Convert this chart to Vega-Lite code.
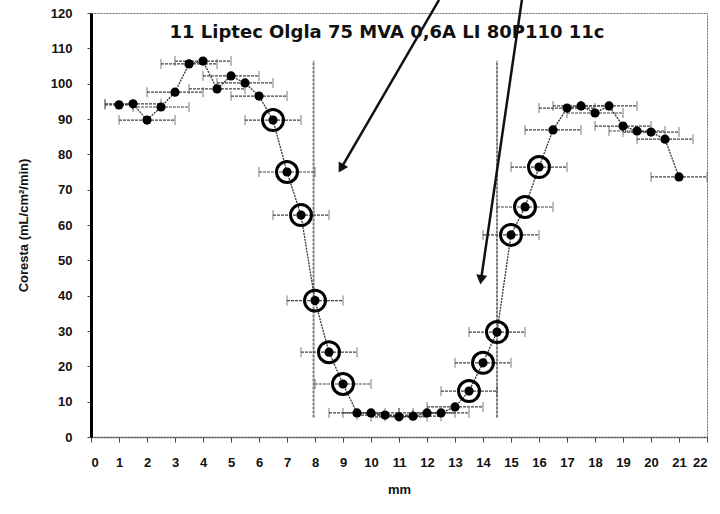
{
  "$schema": "https://vega.github.io/schema/vega-lite/v6.json",
  "autosize": {"type": "none"},
  "padding": {"left": 91, "top": 13, "right": 13, "bottom": 77},
  "width": 616,
  "height": 424,
  "background": "white",
  "config": {
    "font": "Liberation Sans",
    "view": {"stroke": "#666", "strokeDash": [2, 1], "strokeWidth": 1},
    "axis": {"grid": false, "labelFont": "Liberation Sans", "titleFont": "Liberation Sans", "labelColor": "#111", "titleColor": "#111", "tickColor": "#444", "labelOverlap": false, "titleFontSize": 13, "titleFontWeight": "bold", "titlePadding": 14, "labelFontSize": 13, "labelFontWeight": "bold"},
    "axisX": {"labelPadding": 14, "tickSize": 5, "domainColor": "#555", "domainDash": [2, 1], "domainWidth": 1.5},
    "axisY": {"labelPadding": 15, "titlePadding": 20, "tickSize": 4, "domainColor": "#000", "domainWidth": 3}
  },
  "datasets": {
    "pts": [
      {"x": 1, "y": 94, "err": 0.5},
      {"x": 1.5, "y": 94.3, "err": 1},
      {"x": 2, "y": 89.7, "err": 1},
      {"x": 2.5, "y": 93.4, "err": 1},
      {"x": 3, "y": 97.6, "err": 1},
      {"x": 3.5, "y": 105.6, "err": 1},
      {"x": 4, "y": 106.4, "err": 1},
      {"x": 4.5, "y": 98.5, "err": 1},
      {"x": 5, "y": 102.2, "err": 1},
      {"x": 5.5, "y": 100.2, "err": 1},
      {"x": 6, "y": 96.5, "err": 1},
      {"x": 6.5, "y": 89.7, "err": 1},
      {"x": 7, "y": 75, "err": 1},
      {"x": 7.5, "y": 62.8, "err": 1},
      {"x": 8, "y": 38.6, "err": 1},
      {"x": 8.5, "y": 24, "err": 1},
      {"x": 9, "y": 15, "err": 1},
      {"x": 9.5, "y": 6.8, "err": 1},
      {"x": 10, "y": 6.8, "err": 1},
      {"x": 10.5, "y": 6.2, "err": 1},
      {"x": 11, "y": 5.7, "err": 1},
      {"x": 11.5, "y": 5.9, "err": 1},
      {"x": 12, "y": 6.8, "err": 1},
      {"x": 12.5, "y": 6.8, "err": 1},
      {"x": 13, "y": 8.5, "err": 1},
      {"x": 13.5, "y": 13, "err": 1},
      {"x": 14, "y": 21, "err": 1},
      {"x": 14.5, "y": 29.7, "err": 1},
      {"x": 15, "y": 57.2, "err": 1},
      {"x": 15.5, "y": 65.1, "err": 1},
      {"x": 16, "y": 76.4, "err": 1},
      {"x": 16.5, "y": 86.9, "err": 1},
      {"x": 17, "y": 93.1, "err": 1},
      {"x": 17.5, "y": 93.7, "err": 1},
      {"x": 18, "y": 91.7, "err": 1},
      {"x": 18.5, "y": 93.7, "err": 1},
      {"x": 19, "y": 88, "err": 1},
      {"x": 19.5, "y": 86.6, "err": 1},
      {"x": 20, "y": 86.3, "err": 1},
      {"x": 20.5, "y": 84.3, "err": 1},
      {"x": 21, "y": 73.6, "err": 1}
    ],
    "bounds": [
      {"x": 7.95, "y": 5.5, "y2": 106.5},
      {"x": 14.5, "y": 5.5, "y2": 106.5}
    ],
    "arrows": [
      {"id": "a", "x": 12.43, "y": 123.7, "x2": 8.93, "y2": 76},
      {"id": "b", "x": 15.39, "y": 123.7, "x2": 13.93, "y2": 44.5}
    ],
    "heading": [
      {"x": 10.57, "y": 113, "label": "11 Liptec Olgla 75 MVA 0,6A LI 80P110 11c"}
    ]
  },
  "layer": [
    {
      "data": {"name": "bounds"},
      "mark": {"type": "rule", "color": "#777", "strokeWidth": 2, "strokeDash": [3, 1]},
      "encoding": {
        "x": {"field": "x", "type": "quantitative", "title": "mm", "scale": {"domain": [0, 22], "nice": false, "zero": false}, "axis": {"values": [0,1,2,3,4,5,6,7,8,9,10,11,12,13,14,15,16,17,18,19,20,21,22]}},
        "y": {"field": "y", "type": "quantitative", "title": "Coresta (mL/cm²/min)", "scale": {"domain": [0, 120], "nice": false}, "axis": {"values": [0,10,20,30,40,50,60,70,80,90,100,110,120]}},
        "y2": {"field": "y2"}
      }
    },
    {
      "data": {"name": "pts"},
      "mark": {"type": "errorbar", "color": "#444", "ticks": {"size": 10, "thickness": 1}, "rule": {"strokeDash": [3, 1], "strokeWidth": 1.2}},
      "encoding": {
        "x": {"field": "x", "type": "quantitative", "title": "mm", "axis": {"values": [0,1,2,3,4,5,6,7,8,9,10,11,12,13,14,15,16,17,18,19,20,21,22]}},
        "xError": {"field": "err"},
        "y": {"field": "y", "type": "quantitative", "title": "Coresta (mL/cm²/min)", "axis": {"values": [0,10,20,30,40,50,60,70,80,90,100,110,120]}}
      }
    },
    {
      "data": {"name": "pts"},
      "mark": {"type": "line", "color": "#333", "strokeWidth": 1.3, "strokeDash": [2, 1]},
      "encoding": {
        "x": {"field": "x", "type": "quantitative", "title": "mm", "axis": {"values": [0,1,2,3,4,5,6,7,8,9,10,11,12,13,14,15,16,17,18,19,20,21,22]}},
        "y": {"field": "y", "type": "quantitative", "title": "Coresta (mL/cm²/min)", "axis": {"values": [0,10,20,30,40,50,60,70,80,90,100,110,120]}}
      }
    },
    {
      "data": {"name": "pts"},
      "transform": [{"filter": "(datum.x >= 6.5 && datum.x <= 9) || (datum.x >= 13.5 && datum.x <= 16)"}],
      "mark": {"type": "point", "filled": false, "color": "#000", "size": 440, "strokeWidth": 3, "opacity": 1},
      "encoding": {
        "x": {"field": "x", "type": "quantitative", "title": "mm", "axis": {"values": [0,1,2,3,4,5,6,7,8,9,10,11,12,13,14,15,16,17,18,19,20,21,22]}},
        "y": {"field": "y", "type": "quantitative", "title": "Coresta (mL/cm²/min)", "axis": {"values": [0,10,20,30,40,50,60,70,80,90,100,110,120]}}
      }
    },
    {
      "data": {"name": "pts"},
      "mark": {"type": "point", "filled": true, "color": "#000", "size": 85, "opacity": 1},
      "encoding": {
        "x": {"field": "x", "type": "quantitative", "title": "mm", "axis": {"values": [0,1,2,3,4,5,6,7,8,9,10,11,12,13,14,15,16,17,18,19,20,21,22]}},
        "y": {"field": "y", "type": "quantitative", "title": "Coresta (mL/cm²/min)", "axis": {"values": [0,10,20,30,40,50,60,70,80,90,100,110,120]}}
      }
    },
    {
      "data": {"name": "arrows"},
      "mark": {"type": "rule", "color": "#111", "strokeWidth": 2.5},
      "encoding": {
        "x": {"field": "x", "type": "quantitative", "title": "mm", "axis": {"values": [0,1,2,3,4,5,6,7,8,9,10,11,12,13,14,15,16,17,18,19,20,21,22]}},
        "y": {"field": "y", "type": "quantitative", "title": "Coresta (mL/cm²/min)", "axis": {"values": [0,10,20,30,40,50,60,70,80,90,100,110,120]}},
        "x2": {"field": "x2"},
        "y2": {"field": "y2"}
      }
    },
    {
      "data": {"name": "arrows"},
      "transform": [{"filter": "datum.id == 'a'"}],
      "mark": {"type": "point", "shape": "triangle-down", "filled": true, "color": "#111", "size": 120, "angle": 30, "opacity": 1},
      "encoding": {
        "x": {"field": "x2", "type": "quantitative", "title": "mm", "axis": {"values": [0,1,2,3,4,5,6,7,8,9,10,11,12,13,14,15,16,17,18,19,20,21,22]}},
        "y": {"field": "y2", "type": "quantitative", "title": "Coresta (mL/cm²/min)", "axis": {"values": [0,10,20,30,40,50,60,70,80,90,100,110,120]}}
      }
    },
    {
      "data": {"name": "arrows"},
      "transform": [{"filter": "datum.id == 'b'"}],
      "mark": {"type": "point", "shape": "triangle-down", "filled": true, "color": "#111", "size": 120, "angle": 8, "opacity": 1},
      "encoding": {
        "x": {"field": "x2", "type": "quantitative", "title": "mm", "axis": {"values": [0,1,2,3,4,5,6,7,8,9,10,11,12,13,14,15,16,17,18,19,20,21,22]}},
        "y": {"field": "y2", "type": "quantitative", "title": "Coresta (mL/cm²/min)", "axis": {"values": [0,10,20,30,40,50,60,70,80,90,100,110,120]}}
      }
    },
    {
      "data": {"name": "heading"},
      "mark": {"type": "text", "fontSize": 18, "fontWeight": "bold", "color": "#111", "baseline": "alphabetic", "align": "center", "font": "DejaVu Sans"},
      "encoding": {
        "x": {"field": "x", "type": "quantitative", "title": "mm", "axis": {"values": [0,1,2,3,4,5,6,7,8,9,10,11,12,13,14,15,16,17,18,19,20,21,22]}},
        "y": {"field": "y", "type": "quantitative", "title": "Coresta (mL/cm²/min)", "axis": {"values": [0,10,20,30,40,50,60,70,80,90,100,110,120]}},
        "text": {"field": "label"}
      }
    }
  ]
}
